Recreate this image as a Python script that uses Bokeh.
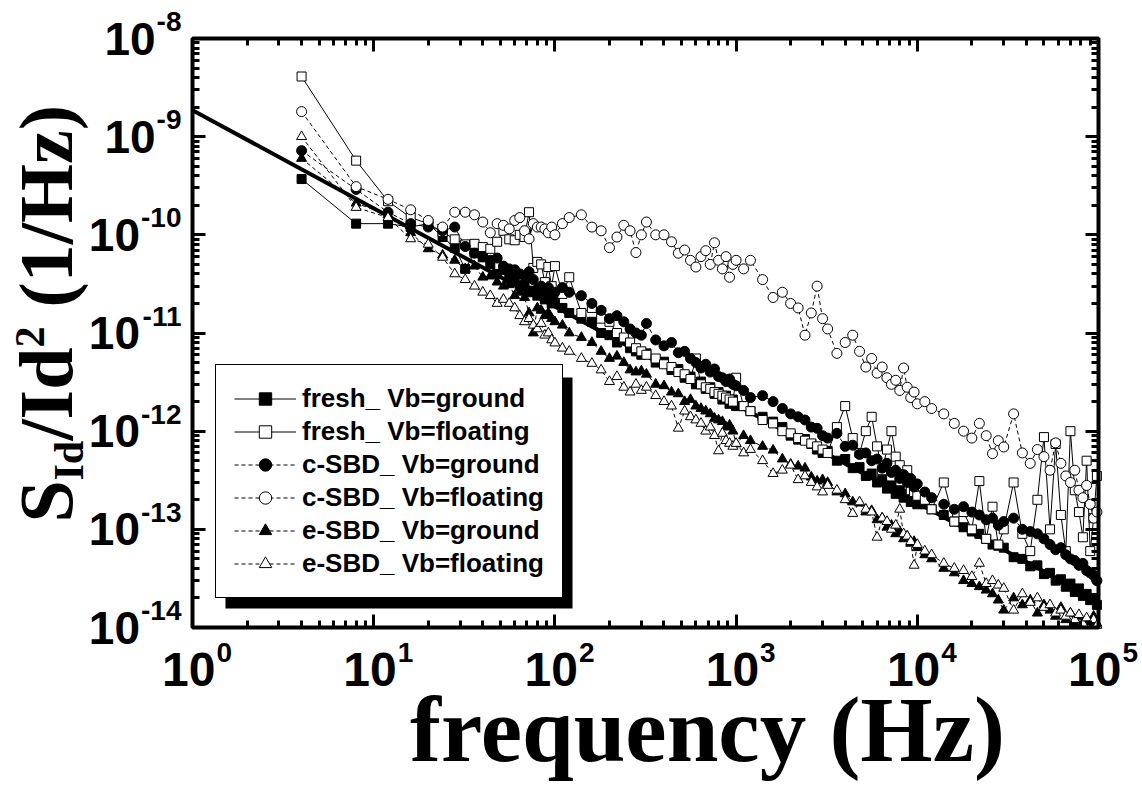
from bokeh.plotting import figure
from bokeh.core.properties import value
from bokeh.models import (LogAxis, FixedTicker, Legend, LegendItem, BoxAnnotation,
                          Label, Range1d, CustomJSTickFormatter)
from bokeh.embed import file_html
from bokeh.resources import INLINE

# ---------------- data ----------------
freq = [4, 8, 12, 16, 20, 24, 28, 32, 36, 40, 44, 48, 52, 56, 60, 64, 68, 72, 76, 80, 84, 88, 92, 96, 100,
        110, 120, 140, 160, 180, 200, 220, 240, 260, 280, 300, 320, 360, 400, 440, 480, 520, 560, 600, 640,
        680, 720, 760, 800, 840, 880, 920, 960, 1000,
        1100, 1200, 1400, 1600, 1800, 2000, 2200, 2400, 2600, 2800, 3000, 3200, 3600, 4000, 4400, 4800, 5200,
        5600, 6000, 6400, 6800, 7200, 7600, 8000, 8400, 8800, 9200, 9600, 10000,
        11000, 12000, 14000, 16000, 18000, 20000, 22000, 24000, 26000, 28000, 30000, 34000, 38000, 42000,
        46000, 50000, 54000, 58000, 62000, 66000, 70000, 74000, 78000, 82000, 86000, 90000, 94000, 98000]

fresh_ground = [
    3.7e-10, 1.3e-10, 1.3e-10, 1.2e-10, 1.3e-10, 9.5e-11, 7.4e-11, 4.5e-11, 6.6e-11, 5.9e-11, 5.0e-11, 4.0e-11,
    4.4e-11, 3.6e-11, 3.5e-11, 3.0e-11, 3.1e-11, 2.6e-11, 2.7e-11, 2.4e-11, 2.5e-11, 2.2e-11, 2.3e-11, 2.0e-11, 2.1e-11,
    1.8e-11, 1.6e-11, 1.4e-11, 1.3e-11, 1.0e-11, 9.5e-12, 8.0e-12, 8.4e-12, 7.0e-12, 6.5e-12, 6.0e-12, 6.2e-12,
    5.0e-12, 5.1e-12, 4.2e-12, 4.3e-12, 3.5e-12, 3.6e-12, 3.0e-12, 3.2e-12, 2.7e-12, 2.8e-12, 2.4e-12, 2.5e-12,
    2.1e-12, 2.3e-12, 1.9e-12, 2.1e-12, 1.8e-12,
    1.8e-12, 1.6e-12, 1.4e-12, 1.25e-12, 1.1e-12, 9.0e-13, 8.2e-13, 8.3e-13, 7.4e-13, 6.5e-13, 6.0e-13, 6.3e-13,
    5.0e-13, 5.2e-13, 4.2e-13, 4.3e-13, 3.5e-13, 3.7e-13, 3.0e-13, 3.2e-13, 2.6e-13, 2.8e-13, 2.3e-13, 2.5e-13,
    2.1e-13, 2.3e-13, 1.9e-13, 2.0e-13, 1.8e-13,
    1.8e-13, 1.6e-13, 1.4e-13, 1.2e-13, 1.05e-13, 9.5e-14, 9.0e-14, 8.0e-14, 7.0e-14, 6.8e-14, 6.5e-14,
    5.2e-14, 5.0e-14, 4.2e-14, 4.3e-14, 3.5e-14, 3.6e-14, 3.0e-14, 3.1e-14, 2.6e-14, 2.8e-14, 2.3e-14, 2.5e-14,
    2.1e-14, 2.2e-14, 1.9e-14, 2.0e-14, 1.7e-14]

fresh_floating = [
    4.1e-9, 5.7e-10, 2.2e-10, 1.5e-10, 1.3e-10, 1.07e-10, 9.0e-11, 8.0e-11, 8.1e-11, 7.5e-11, 7.2e-11, 8.5e-11,
    1.1e-10, 9.0e-11, 8.8e-11, 1.0e-10, 9.5e-11, 1.7e-10, 4.6e-11, 5.3e-11, 5.0e-11, 3.3e-11, 4.7e-11, 3.0e-11, 4.8e-11,
    2.5e-11, 3.7e-11, 1.6e-11, 1.8e-11, 1.4e-11, 1.3e-11, 1.0e-11, 9.0e-12, 8.0e-12, 7.0e-12, 6.5e-12, 6.0e-12,
    5.5e-12, 4.8e-12, 4.5e-12, 4.0e-12, 3.8e-12, 3.4e-12, 5.5e-12, 3.0e-12, 2.8e-12, 2.7e-12, 2.5e-12, 2.4e-12,
    2.3e-12, 2.2e-12, 2.1e-12, 2.0e-12, 3.5e-12,
    1.8e-12, 1.6e-12, 1.3e-12, 1.2e-12, 1.0e-12, 9.5e-13, 8.5e-13, 8.0e-13, 7.5e-13, 7.0e-13, 6.5e-13, 6.0e-13,
    1.1e-12, 1.8e-12, 8.5e-13, 6.0e-13, 1.0e-12, 1.4e-12, 7.0e-13, 4.0e-13, 6.5e-13, 1.0e-12, 5.5e-13, 4.5e-13,
    3.5e-13, 4.0e-13, 2.5e-13, 2.4e-13, 2.2e-13,
    2.0e-13, 1.6e-13, 3.0e-13, 1.2e-13, 1.5e-13, 1.0e-13, 3.1e-13, 8.0e-14, 1.7e-13, 7.0e-14, 1.0e-13,
    3.0e-13, 9.0e-14, 6.0e-14, 2.0e-13, 8.7e-13, 1.0e-13, 7.4e-13, 1.4e-13, 6.0e-14, 1.0e-12, 2.5e-13, 1.5e-13,
    8.3e-14, 5.0e-13, 6.0e-14, 1.3e-13, 3.5e-13]

csbd_ground = [
    7.2e-10, 2.9e-10, 1.7e-10, 1.3e-10, 1.2e-10, 1.1e-10, 1.2e-10, 7.6e-11, 6.5e-11, 6.0e-11, 5.5e-11, 5.8e-11,
    4.8e-11, 4.5e-11, 4.4e-11, 4.0e-11, 3.8e-11, 4.2e-11, 3.5e-11, 2.8e-11, 3.0e-11, 2.6e-11, 2.9e-11, 2.5e-11, 2.6e-11,
    2.9e-11, 2.6e-11, 2.4e-11, 2.0e-11, 1.7e-11, 1.4e-11, 1.5e-11, 1.3e-11, 1.1e-11, 1.0e-11, 9.5e-12, 1.25e-11,
    8.5e-12, 7.4e-12, 8.0e-12, 6.3e-12, 6.5e-12, 5.5e-12, 5.0e-12, 4.4e-12, 4.8e-12, 4.0e-12, 4.3e-12, 3.6e-12,
    3.5e-12, 3.2e-12, 3.4e-12, 3.0e-12, 2.9e-12,
    2.6e-12, 2.2e-12, 2.3e-12, 2.0e-12, 1.7e-12, 1.5e-12, 1.4e-12, 1.3e-12, 1.1e-12, 1.07e-12, 9.0e-13, 8.5e-13,
    9.5e-13, 7.0e-13, 7.2e-13, 5.8e-13, 6.0e-13, 5.0e-13, 5.2e-13, 4.2e-13, 4.7e-13, 3.8e-13, 4.0e-13, 3.3e-13,
    3.6e-13, 3.0e-13, 3.3e-13, 2.7e-13, 2.9e-13,
    2.4e-13, 2.1e-13, 1.8e-13, 1.6e-13, 1.7e-13, 1.5e-13, 1.4e-13, 1.25e-13, 1.3e-13, 1.1e-13, 1.2e-13,
    1.3e-13, 1.0e-13, 9.5e-14, 9.0e-14, 8.0e-14, 7.0e-14, 6.2e-14, 6.5e-14, 5.5e-14, 5.0e-14, 4.8e-14, 4.3e-14,
    4.5e-14, 3.8e-14, 3.6e-14, 3.4e-14, 3.0e-14]

csbd_floating = [
    1.8e-9, 3.1e-10, 2.3e-10, 1.8e-10, 1.4e-10, 1.2e-10, 1.7e-10, 1.7e-10, 1.6e-10, 1.35e-10, 1.05e-10, 1.3e-10,
    1.25e-10, 1.15e-10, 1.4e-10, 1.5e-10, 1.1e-10, 9.1e-11, 1.3e-10, 1.2e-10, 1.2e-10, 1.15e-10, 1.05e-10, 1.2e-10, 1.0e-10,
    1.3e-10, 1.5e-10, 1.6e-10, 1.2e-10, 1.1e-10, 7.4e-11, 9.5e-11, 1.25e-10, 1.1e-10, 6.6e-11, 1.0e-10, 1.35e-10,
    1.0e-10, 1.0e-10, 8.5e-11, 6.5e-11, 7.0e-11, 5.5e-11, 4.7e-11, 6.0e-11, 6.9e-11, 5.0e-11, 8.3e-11, 5.5e-11,
    4.5e-11, 6.0e-11, 3.7e-11, 5.0e-11, 5.5e-11,
    4.5e-11, 5.5e-11, 3.5e-11, 2.3e-11, 2.6e-11, 2.0e-11, 1.8e-11, 9.5e-12, 1.6e-11, 3.0e-11, 1.4e-11, 1.1e-11,
    6.2e-12, 8.0e-12, 9.5e-12, 6.5e-12, 4.5e-12, 5.5e-12, 3.9e-12, 4.5e-12, 3.5e-12, 3.0e-12, 3.3e-12, 2.6e-12,
    4.4e-12, 2.8e-12, 2.2e-12, 2.5e-12, 1.9e-12,
    2.0e-12, 1.7e-12, 1.5e-12, 1.2e-12, 1.0e-12, 8.5e-13, 1.2e-12, 9.0e-13, 5.9e-13, 8.0e-13, 6.9e-13,
    1.5e-12, 6.0e-13, 4.7e-13, 6.5e-13, 5.5e-13, 4.0e-13, 7.6e-13, 4.7e-13, 3.5e-13, 3.0e-13, 4.0e-13, 2.5e-13,
    2.1e-13, 2.8e-13, 1.8e-13, 1.3e-13, 1.5e-13]

esbd_ground = [
    6.0e-10, 2.1e-10, 1.6e-10, 1.05e-10, 7.2e-11, 6.2e-11, 5.5e-11, 4.5e-11, 4.8e-11, 3.7e-11, 3.8e-11, 3.3e-11,
    3.0e-11, 3.1e-11, 2.4e-11, 2.6e-11, 2.3e-11, 1.6e-11, 1.0e-11, 1.8e-11, 1.7e-11, 1.5e-11, 1.6e-11, 1.4e-11, 1.3e-11,
    1.2e-11, 1.0e-11, 9.0e-12, 8.0e-12, 6.5e-12, 5.5e-12, 5.8e-12, 5.0e-12, 4.2e-12, 4.0e-12, 4.1e-12, 3.8e-12,
    3.0e-12, 2.9e-12, 2.5e-12, 2.4e-12, 2.0e-12, 2.1e-12, 1.8e-12, 1.7e-12, 1.6e-12, 1.5e-12, 1.35e-12, 1.3e-12,
    1.25e-12, 1.1e-12, 1.15e-12, 1.0e-12, 7.4e-13,
    9.0e-13, 8.0e-13, 7.0e-13, 6.4e-13, 5.2e-13, 4.6e-13, 4.4e-13, 4.2e-13, 3.4e-13, 3.1e-13, 3.2e-13, 3.0e-13,
    2.4e-13, 2.3e-13, 1.9e-13, 1.85e-13, 1.5e-13, 1.55e-13, 1.25e-13, 1.3e-13, 1.05e-13, 1.1e-13, 9.0e-14, 9.5e-14,
    8.0e-14, 8.5e-14, 7.2e-14, 7.5e-14, 6.5e-14,
    5.5e-14, 5.0e-14, 4.0e-14, 3.6e-14, 3.0e-14, 2.8e-14, 2.6e-14, 2.4e-14, 2.2e-14, 1.9e-14, 1.5e-14,
    2.0e-14, 1.7e-14, 1.9e-14, 1.4e-14, 1.7e-14, 1.5e-14, 1.3e-14, 1.6e-14, 1.2e-14, 1.4e-14, 1.1e-14, 1.3e-14,
    1.0e-14, 1.2e-14, 1.1e-14, 1.3e-14, 1.1e-14]

esbd_floating = [
    1.0e-9, 1.9e-10, 1.5e-10, 9.1e-11, 8.0e-11, 5.9e-11, 4.0e-11, 3.5e-11, 3.0e-11, 2.6e-11, 2.4e-11, 2.0e-11,
    2.2e-11, 2.0e-11, 1.8e-11, 1.5e-11, 1.3e-11, 1.4e-11, 1.2e-11, 1.1e-11, 1.25e-11, 9.5e-12, 1.0e-11, 8.5e-12, 7.9e-12,
    7.0e-12, 6.5e-12, 5.5e-12, 4.9e-12, 4.2e-12, 3.2e-12, 3.6e-12, 2.8e-12, 2.5e-12, 3.0e-12, 2.6e-12, 2.8e-12,
    2.3e-12, 2.0e-12, 1.8e-12, 1.07e-12, 1.6e-12, 1.4e-12, 1.3e-12, 1.2e-12, 1.0e-12, 1.1e-12, 9.0e-13, 6.3e-13,
    9.5e-13, 8.0e-13, 7.5e-13, 7.0e-13, 7.5e-13,
    6.0e-13, 6.5e-13, 5.0e-13, 3.7e-13, 4.0e-13, 4.5e-13, 3.2e-13, 3.5e-13, 3.0e-13, 2.7e-13, 2.4e-13, 2.8e-13,
    2.5e-13, 2.0e-13, 1.45e-13, 1.9e-13, 1.6e-13, 1.5e-13, 8.3e-14, 1.3e-13, 1.2e-13, 1.0e-13, 1.1e-13, 1.6e-13,
    9.0e-14, 8.5e-14, 7.5e-14, 4.3e-14, 7.0e-14,
    6.0e-14, 5.5e-14, 4.5e-14, 4.0e-14, 3.8e-14, 3.3e-14, 4.5e-14, 2.8e-14, 3.0e-14, 2.7e-14, 2.5e-14,
    1.5e-14, 2.2e-14, 1.8e-14, 2.0e-14, 1.6e-14, 1.7e-14, 1.4e-14, 1.5e-14, 1.3e-14, 1.4e-14, 1.2e-14, 1.35e-14,
    1.1e-14, 1.25e-14, 1.0e-14, 1.2e-14, 1.05e-14]

# 1/f fit line end points
fit_freq = [1, 1e5]
fit_val = [1.86e-9, 1.86e-14]

labels = ["fresh_ Vb=ground", "fresh_ Vb=floating", "c-SBD_ Vb=ground",
          "c-SBD_ Vb=floating", "e-SBD_ Vb=ground", "e-SBD_ Vb=floating"]

x_major = [1, 10, 100, 1000, 10000, 100000]
x_tick_exp = ["0", "1", "2", "3", "4", "5"]
y_major = [1e-14, 1e-13, 1e-12, 1e-11, 1e-10, 1e-9, 1e-8]
y_tick_exp = ["-14", "-13", "-12", "-11", "-10", "-9", "-8"]

# ---------------- page geometry (px) ----------------
W, H = 1142, 789
BOX_L, BOX_T, BOX_W, BOX_H = 192, 38, 906, 589      # plot box on the page
PX_DEC_X = BOX_W / 5.0                              # 5 decades of frequency
PX_DEC_Y = BOX_H / 6.0                              # 6 decades of S/Id^2
X_LO, X_HI = 1, 1e5
Y_LO, Y_HI = 1e-14, 1e-8

# the whole canvas is the plotting frame; ranges are extended so that the
# data box 1..1e5 x 1e-14..1e-8 lands on the page box above
p = figure(title=None, width=W, height=H, min_border=0,
           x_axis_type="log", y_axis_type="log",
           x_range=Range1d(10 ** (-BOX_L / PX_DEC_X), 10 ** ((W - BOX_L) / PX_DEC_X)),
           y_range=Range1d(10 ** (-8 - (H - BOX_T) / PX_DEC_Y), 10 ** (-8 + BOX_T / PX_DEC_Y)),
           output_backend="svg", toolbar_location=None)
p.grid.visible = False
p.outline_line_color = None
p.background_fill_color = "white"
p.border_fill_color = "white"

x_minor = [m * d for d in x_major[:-1] for m in range(2, 10)]
y_minor = [m * d for d in y_major[:-1] for m in range(2, 10)]


def style_axis(ax, major, minor, loc, bounds):
    ax.fixed_location = loc
    ax.bounds = bounds
    ax.ticker = FixedTicker(ticks=major, minor_ticks=minor)
    ax.axis_line_color = None
    ax.major_tick_in = 13
    ax.major_tick_out = 0
    ax.minor_tick_in = 7
    ax.minor_tick_out = 0
    ax.major_tick_line_width = 3
    ax.minor_tick_line_width = 3
    ax.major_tick_line_color = "black"
    ax.minor_tick_line_color = "black"
    ax.formatter = CustomJSTickFormatter(code="return ''")
    ax.major_label_text_font_size = "1px"
    ax.major_label_standoff = 0


style_axis(p.xaxis[0], x_major, x_minor, Y_LO, (X_LO, X_HI))
style_axis(p.yaxis[0], y_major, y_minor, X_LO, (Y_LO, Y_HI))
top_ax = LogAxis()
p.add_layout(top_ax, "above")
style_axis(top_ax, x_major, x_minor, Y_HI, (X_LO, X_HI))
right_ax = LogAxis()
p.add_layout(right_ax, "right")
style_axis(right_ax, y_major, y_minor, X_HI, (Y_LO, Y_HI))

# fit line (under the markers)
p.line(fit_freq, fit_val, line_color="black", line_width=4)

series = [
    (fresh_ground, "square", "black", "solid", 9),
    (fresh_floating, "square", "white", "solid", 9),
    (csbd_ground, "circle", "black", "4 3", 10),
    (csbd_floating, "circle", "white", "4 3", 10),
    (esbd_ground, "triangle", "black", "4 3", 10),
    (esbd_floating, "triangle", "white", "4 3", 10),
]

items = []
for (vals, marker, fill, dash, size), lab in zip(series, labels):
    lr = p.line(freq, vals, line_color="black", line_width=1, line_dash=dash)
    sr = p.scatter(freq, vals, marker=marker, size=size, fill_color=fill,
                   line_color="black", line_width=1)
    items.append(LegendItem(label=lab, renderers=[lr, sr]))

# tick labels: "10" with a raised exponent, placed through the log scales
tick_font = dict(text_font=value("Liberation Sans"), text_font_style="bold", text_color="black",
                 text_baseline="middle")
p.text(x=x_major, y=[Y_LO] * len(x_major), text=["10"] * len(x_major),
       text_align="right", x_offset=23, y_offset=42, text_font_size="48px", **tick_font)
p.text(x=x_major, y=[Y_LO] * len(x_major), text=x_tick_exp,
       text_align="left", x_offset=24, y_offset=25, text_font_size="28px", **tick_font)

exp_w = [(0.333 + 0.556 * (len(e) - 1)) * 28 for e in y_tick_exp]
p.text(x=[X_LO] * len(y_major), y=y_major, text=["10"] * len(y_major),
       text_align="right", x_offset=[-(12 + w) for w in exp_w], y_offset=0,
       text_font_size="46px", **tick_font)
p.text(x=[X_LO] * len(y_major), y=y_major, text=y_tick_exp,
       text_align="right", x_offset=-11, y_offset=-17, text_font_size="28px", **tick_font)

# thin white strip just below the box (markers are clipped at the box in the reference)
p.add_layout(BoxAnnotation(left=X_LO, right=X_HI, top=Y_LO, bottom=Y_LO * 10 ** (-9 / PX_DEC_Y),
                           fill_color="white", fill_alpha=1.0, line_color=None))
# plot box
p.add_layout(BoxAnnotation(left=X_LO, right=X_HI, bottom=Y_LO, top=Y_HI,
                           fill_color=None, line_color="black", line_alpha=1.0, line_width=4))

# legend shadow + legend (screen units from the bottom-left corner of the page)
p.add_layout(BoxAnnotation(left=225, right=572, top=H - 377, bottom=H - 608,
                           left_units="screen", right_units="screen",
                           top_units="screen", bottom_units="screen",
                           fill_color="black", fill_alpha=1.0, line_color=None))
legend = Legend(items=items, location=(215, H - 598),
                label_text_font="Liberation Sans", label_text_font_style="bold",
                label_text_font_size="26px", label_text_color="black",
                glyph_width=62, glyph_height=31, label_height=31, label_standoff=6,
                spacing=2, padding=18, margin=0,
                border_line_color="black", border_line_width=1, border_line_alpha=1.0,
                background_fill_color="white", background_fill_alpha=1.0)
p.add_layout(legend)

# y axis title  S_Id / Id^2 (1/Hz)   (anchor = middle of the rotated text line)
yl = dict(x_units="screen", y_units="screen", angle=90, angle_units="deg",
          text_align="left", text_baseline="middle",
          text_font="Liberation Serif", text_font_style="bold", text_color="black")
p.add_layout(Label(x=45, y=H - 522, text="S", text_font_size="76px", **yl))
p.add_layout(Label(x=68, y=H - 480, text="Id", text_font_size="42px", **yl))
p.add_layout(Label(x=45, y=H - 440, text="/Id", text_font_size="76px", **yl))
p.add_layout(Label(x=29, y=H - 347, text="2", text_font_size="42px", **yl))
p.add_layout(Label(x=45, y=H - 307, text="(1/Hz)", text_font_size="76px", **yl))

# x axis title
p.add_layout(Label(x=707, y=H - 729, x_units="screen", y_units="screen",
                   text="frequency (Hz)", text_align="center", text_baseline="middle",
                   text_font="Liberation Serif", text_font_style="bold", text_font_size="93px",
                   text_color="black"))

open("out.html", "w").write(file_html(p, INLINE))
